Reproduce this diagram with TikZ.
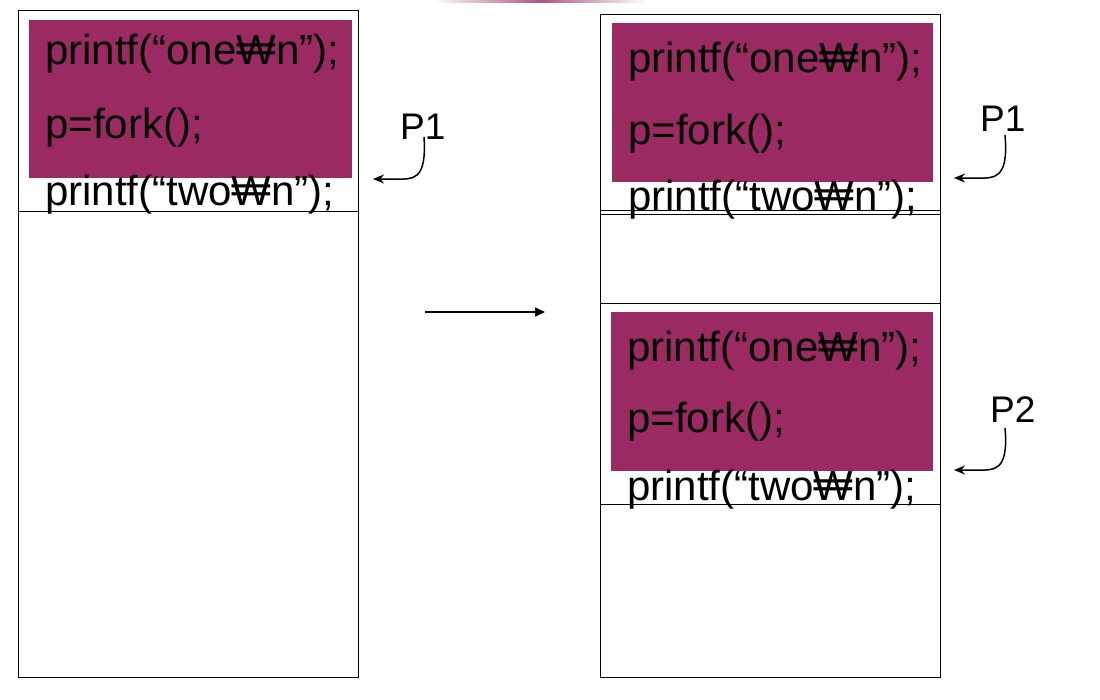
\documentclass[tikz,border=0pt]{standalone}
\usepackage{fontspec}
\setmainfont{Liberation Sans}
\usetikzlibrary{arrows.meta}
\definecolor{plum}{RGB}{155,41,98}
\begin{document}
\begin{tikzpicture}[x=1pt,y=-1pt,
  box/.style={draw=black,line width=1pt},
  hi/.style={fill=plum,draw=none},
  code/.style={anchor=base west,inner sep=0pt,font=\fontsize{42}{42}\selectfont},
  plabel/.style={anchor=base west,inner sep=0pt,font=\fontsize{37}{37}\selectfont},
  curv/.style={-{Stealth[length=11pt,width=9pt]},line width=1.5pt},
  bigarr/.style={-{Triangle[length=10pt,width=9pt]},line width=1.6pt}]
\useasboundingbox (0,0) rectangle (1100,699);
% header fragment
\shade[left color=white,right color=white,middle color=plum!80] (433,0) rectangle (647,2.5);
% left memory
\fill[hi] (29,20) rectangle (352,178);
\draw[box] (18,10) rectangle (358,677);
\draw[box] (18,211) -- (358,211);
\node[code] (l1) at (45,64) {printf(“one₩n”);};
\node[code] (l2) at (45,138) {p=fork();};
\node[code] (l3) at (45,205) {printf(“two₩n”);};
\node[plabel] (p1l) at (400,139) {P1};
\coordinate (p1ls) at (424,137);
\coordinate (p1le) at (373,179);
\draw[curv] (p1ls) .. controls (427,182) and (412,179) .. (396,179) -- (p1le);
% middle arrow
\coordinate (m1) at (425,312);
\coordinate (m2) at (545,312);
\draw[bigarr] (m1) -- (m2);
% right memory
\fill[hi] (612,23) rectangle (933,182);
\fill[hi] (611,312) rectangle (933,471);
\draw[box] (600,14) rectangle (940,677);
\draw[box] (600,210) -- (940,210);
\draw[box] (600,214) -- (940,214);
\draw[box] (600,303) -- (940,303);
\draw[box] (600,504) -- (940,504);
\node[code] (r1) at (628,72) {printf(“one₩n”);};
\node[code] (r2) at (628,144) {p=fork();};
\node[code] (r3) at (628,210) {printf(“two₩n”);};
\node[code] (s1) at (627,361) {printf(“one₩n”);};
\node[code] (s2) at (627,432) {p=fork();};
\node[code] (s3) at (627,500) {printf(“two₩n”);};
\node[plabel] (p1r) at (980,131) {P1};
\coordinate (p1rs) at (1005,135);
\coordinate (p1re) at (954,178);
\draw[curv] (p1rs) .. controls (1009,181) and (993,178) .. (977,178) -- (p1re);
\node[plabel] (p2r) at (990,422) {P2};
\coordinate (p2rs) at (1005,428);
\coordinate (p2re) at (954,470);
\draw[curv] (p2rs) .. controls (1009,473) and (993,470) .. (977,470) -- (p2re);
\end{tikzpicture}
\end{document}
